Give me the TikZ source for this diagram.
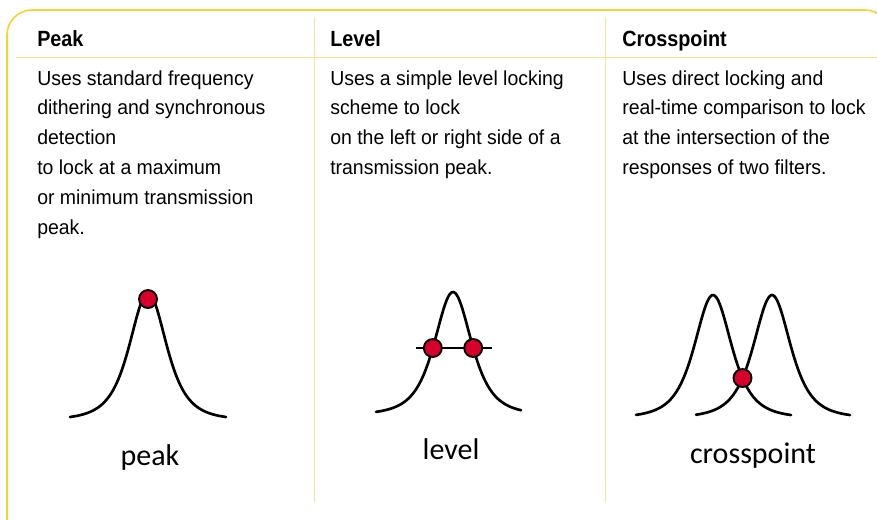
\documentclass[tikz,border=0pt]{standalone}
\usepackage{fontspec}
\setmainfont{Liberation Sans}[FakeStretch=0.96]
\newfontfamily\headfont{Liberation Sans}[FakeStretch=0.9]
\newfontfamily\labfont{Carlito}
\begin{document}
\begin{tikzpicture}[x=0.75pt,y=-0.75pt,
  frame/.style={draw=borderyellow,line width=1.2pt},
  rule/.style={draw=ruleyellow,line width=0.8pt},
  head/.style={anchor=base west,inner sep=0pt,font=\headfont\fontsize{16.5}{19}\selectfont\bfseries},
  body/.style={anchor=base west,inner sep=0pt,font=\fontsize{15.2}{18}\selectfont},
  lab/.style={anchor=base,inner sep=0pt,font=\labfont\fontsize{22.5}{26}\selectfont},
  curve/.style={draw=black,line width=2pt,line cap=round},
  dot/.style={circle,fill=dotred,draw=black,line width=1.4pt,minimum size=13.5pt,inner sep=0pt}]
\definecolor{borderyellow}{HTML}{F6D42A}
\definecolor{ruleyellow}{HTML}{F7E392}
\definecolor{dotred}{HTML}{D8002B}
\useasboundingbox (0,0) rectangle (877,519);
% frame
\draw[frame,rounded corners=25*0.75pt] (7,530) -- (7,10) -- (890,10) -- (890,530);
% rules
\draw[rule] (16,57.5) -- (877,57.5);
\draw[rule] (314.5,18) -- (314.5,502);
\draw[rule] (605.5,18) -- (605.5,502);
% headers
\node[head] (hp) at (37,46) {Peak};
\node[head] (hl) at (330,46) {Level};
\node[head] (hc) at (622,46) {Crosspoint};
% body texts
\foreach \t [count=\i] in {Uses standard frequency,dithering and synchronous,detection,to lock at a maximum,or minimum transmission,peak.}
  \node[body] (bp\i) at (37,{85+(\i-1)*29.8}) {\t};
\foreach \t [count=\i] in {Uses a simple level locking,scheme to lock,on the left or right side of a,transmission peak.}
  \node[body] (bl\i) at (330,{85+(\i-1)*29.8}) {\t};
\foreach \t [count=\i] in {Uses direct locking and,real-time comparison to lock,at the intersection of the,responses of two filters.}
  \node[body] (bc\i) at (622,{85+(\i-1)*29.8}) {\t};
% bell profile: normalised squared Lorentzian, zero at |x|=78
\tikzset{declare function={bell(\u)=(1/((1+(\u/34)^2)^2)-0.0255)/0.9745;}}
% peak curve
\draw[curve] plot[domain=-78:78,samples=121,smooth] ({148+\x},{417-124*bell(\x)});
\node[dot] (dp) at (148,299) {};
\node[lab] (lp) at (150,465) {peak};
% level curve
\draw[curve] plot[domain=-77:68,samples=121,smooth] ({453+\x},{412-120*bell(\x)});
\coordinate (la) at (416,348);
\coordinate (lb) at (492,348);
\draw[curve,line cap=butt] (la) -- (lb);
\node[dot] (dl1) at (432.8,348) {};
\node[dot] (dl2) at (473.2,348) {};
\node[lab] (ll) at (451,459) {level};
% crosspoint curves
\draw[curve] plot[domain=-77:78,samples=121,smooth] ({713+\x},{415-120*bell(\x)});
\draw[curve] plot[domain=-76:78,samples=121,smooth] ({772+\x},{415-120*bell(\x)});
\node[dot] (dc) at (742.5,378) {};
\node[lab] (lc) at (753,463) {crosspoint};
\end{tikzpicture}
\end{document}
